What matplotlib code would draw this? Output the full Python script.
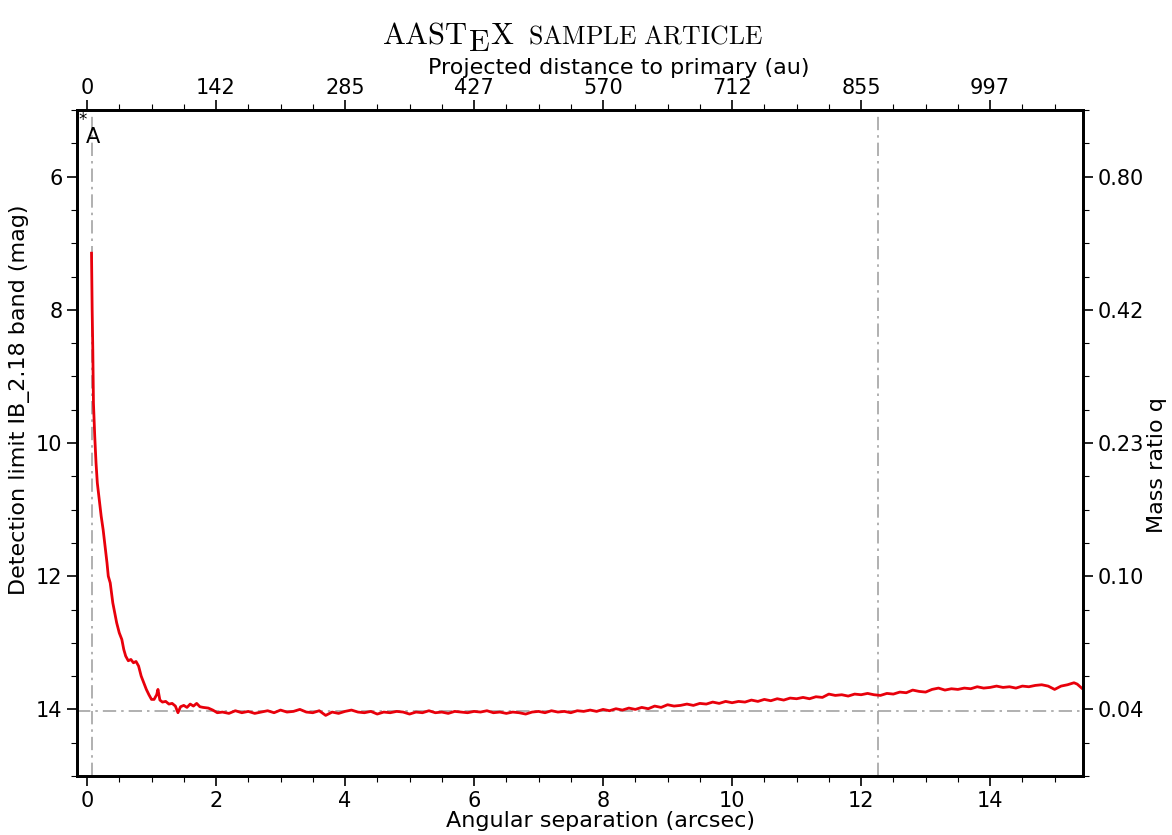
import matplotlib
matplotlib.use("Agg")
import matplotlib.pyplot as plt
from matplotlib.ticker import MultipleLocator
import matplotlib.transforms as mtransforms

# Detection-limit curve (angular separation in arcsec, magnitude limit)
sep = [0.07, 0.08, 0.09, 0.10, 0.12, 0.14, 0.16, 0.19, 0.22, 0.25, 0.28, 0.31, 0.33,
       0.36, 0.40, 0.43, 0.46, 0.50, 0.54, 0.57, 0.60, 0.64, 0.68, 0.72, 0.76, 0.80,
       0.84, 0.88, 0.92, 0.96, 1.00, 1.04, 1.08, 1.10, 1.13, 1.17, 1.22, 1.27, 1.32,
       1.37, 1.41, 1.45, 1.50, 1.55, 1.60, 1.65, 1.70, 1.75, 1.80, 1.88, 1.95, 2.02,
       2.1, 2.2, 2.3, 2.4, 2.5, 2.6, 2.7, 2.8, 2.9, 3.0, 3.1, 3.2, 3.3, 3.4, 3.5, 3.6,
       3.7, 3.8, 3.9, 4.0, 4.1, 4.2, 4.3, 4.4, 4.5, 4.6, 4.7, 4.8, 4.9, 5.0, 5.1, 5.2,
       5.3, 5.4, 5.5, 5.6, 5.7, 5.8, 5.9, 6.0, 6.1, 6.2, 6.3, 6.4, 6.5, 6.6, 6.7, 6.8,
       6.9, 7.0, 7.1, 7.2, 7.3, 7.4, 7.5, 7.6, 7.7, 7.8, 7.9, 8.0, 8.1, 8.2, 8.3, 8.4,
       8.5, 8.6, 8.7, 8.8, 8.9, 9.0, 9.1, 9.2, 9.3, 9.4, 9.5, 9.6, 9.7, 9.8, 9.9, 10.0,
       10.1, 10.2, 10.3, 10.4, 10.5, 10.6, 10.7, 10.8, 10.9, 11.0, 11.1, 11.2, 11.3,
       11.4, 11.5, 11.6, 11.7, 11.8, 11.9, 12.0, 12.1, 12.2, 12.3, 12.4, 12.5, 12.6,
       12.7, 12.8, 12.9, 13.0, 13.1, 13.2, 13.3, 13.4, 13.5, 13.6, 13.7, 13.8, 13.9,
       14.0, 14.1, 14.2, 14.3, 14.4, 14.5, 14.6, 14.7, 14.8, 14.9, 15.0, 15.1, 15.2,
       15.3, 15.35, 15.42]
mag = [7.15, 8.0, 8.6, 9.4, 9.9, 10.3, 10.6, 10.85, 11.1, 11.3, 11.55, 11.8, 12.0,
       12.1, 12.4, 12.55, 12.7, 12.85, 12.95, 13.1, 13.2, 13.27, 13.25, 13.3, 13.28, 13.35,
       13.5, 13.6, 13.7, 13.78, 13.85, 13.85, 13.78, 13.7, 13.86, 13.89, 13.88, 13.92, 13.91,
       13.95, 14.05, 13.96, 13.94, 13.97, 13.92, 13.95, 13.91, 13.96, 13.97, 13.98, 14.01, 14.05,
       14.04, 14.06, 14.02, 14.05, 14.03, 14.06, 14.04, 14.02, 14.05, 14.01, 14.04, 14.03, 14.00,
       14.04, 14.05, 14.02, 14.09, 14.04, 14.06, 14.03, 14.01, 14.04, 14.05, 14.03, 14.07, 14.04,
       14.05, 14.03, 14.04, 14.07, 14.04, 14.05, 14.02, 14.05, 14.04, 14.06, 14.03, 14.04, 14.05,
       14.03, 14.04, 14.02, 14.05, 14.04, 14.06, 14.04, 14.05, 14.07, 14.04, 14.03, 14.05, 14.02,
       14.04, 14.03, 14.05, 14.02, 14.03, 14.01, 14.03, 14.00, 14.02, 13.99, 14.01, 13.98, 14.00,
       13.97, 13.99, 13.95, 13.97, 13.93, 13.95, 13.94, 13.92, 13.94, 13.91, 13.92, 13.89, 13.91,
       13.88, 13.90, 13.88, 13.89, 13.86, 13.88, 13.85, 13.87, 13.84, 13.86, 13.83, 13.84, 13.82,
       13.84, 13.81, 13.82, 13.77, 13.79, 13.78, 13.80, 13.77, 13.78, 13.76, 13.78, 13.79, 13.76,
       13.77, 13.74, 13.75, 13.71, 13.73, 13.74, 13.70, 13.68, 13.71, 13.69, 13.70, 13.68, 13.69,
       13.66, 13.68, 13.67, 13.65, 13.67, 13.66, 13.68, 13.65, 13.66, 13.64, 13.63, 13.65, 13.70,
       13.65, 13.63, 13.60, 13.62, 13.68]

# reference lines
primary_sep = 0.07
outer_sep = 12.26
floor_mag = 14.03

# axis ticks
mag_ticks = [6, 8, 10, 12, 14]
q_labels = ["0.80", "0.42", "0.23", "0.10", "0.04"]
sep_ticks = [0, 2, 4, 6, 8, 10, 12, 14]
au_labels = ["0", "142", "285", "427", "570", "712", "855", "997"]

plt.rcParams['font.family'] = 'DejaVu Sans'
plt.rcParams['mathtext.fontset'] = 'cm'

fig = plt.figure(figsize=(11.72, 8.35), dpi=100)
ax = fig.add_axes([77 / 1172, 1 - 776 / 835, 1006 / 1172, 666 / 835])

gray = '#a3a3a3'
ax.axvline(primary_sep, color=gray, lw=1.2, dashes=(8, 3, 1.5, 3))
ax.axvline(outer_sep, color=gray, lw=1.2, dashes=(8, 3, 1.5, 3))
ax.axhline(floor_mag, color=gray, lw=1.2, dashes=(8, 3, 1.5, 3))
ax.plot(sep, mag, color='#e8000b', lw=2.0)

ax.text(-0.06, 5.15, '*', fontsize=12, ha='center', va='center')
ax.text(0.10, 5.40, 'A', fontsize=15, ha='center', va='center')

ax.set_xlim(-0.155, 15.44)
ax.set_ylim(15, 5)
ax.set_xticks(sep_ticks)
ax.set_yticks(mag_ticks)
ax.xaxis.set_minor_locator(MultipleLocator(0.5))
ax.yaxis.set_minor_locator(MultipleLocator(0.5))

ax2 = ax.twinx()
ax2.set_ylim(15, 5)
ax2.set_yticks(mag_ticks)
ax2.set_yticklabels(q_labels)
ax2.yaxis.set_minor_locator(MultipleLocator(0.5))

ax3 = ax.twiny()
ax3.set_xlim(-0.155, 15.44)
ax3.set_xticks(sep_ticks)
ax3.set_xticklabels(au_labels)
ax3.xaxis.set_minor_locator(MultipleLocator(0.5))

for a in (ax, ax2, ax3):
    a.tick_params(which='major', direction='out', length=7, width=1.2, labelsize=15)
    a.tick_params(which='minor', direction='out', length=4, width=0.8)
    for s in a.spines.values():
        s.set_linewidth(1.8)
ax3.tick_params(which='major', pad=2)

ax.set_xlabel('Angular separation (arcsec)', fontsize=16)
ax.xaxis.set_label_coords(0.52, -0.053)
ax.set_ylabel('Detection limit IB_2.18 band (mag)', fontsize=16)
ax.yaxis.set_label_coords(-0.047, 0.565)
ax3.set_xlabel('Projected distance to primary (au)', fontsize=16)
ax3.xaxis.set_label_coords(0.539, 1.054)
ax2.set_ylabel('Mass ratio q', fontsize=16)
ax2.yaxis.set_label_coords(1.0636, 0.467)

# AASTeX-style title built from pieces
renderer = fig.canvas.get_renderer()
pieces = [(r'$\mathrm{AAST}$', 22, 0, 0), (r'$\mathrm{E}$', 22, -7, 0),
          (r'$\mathrm{X}$', 22, 0, 14), (r'$\mathrm{SAMPLE\ ARTICLE}$', 18.5, 0, 0)]
xpix = 382
for txt, size, dy, kern in pieces:
    t = fig.text(xpix / 1172, 1 - 44 / 835, txt, fontsize=size, ha='left', va='baseline')
    t.set_transform(mtransforms.offset_copy(fig.transFigure, fig=fig, x=0, y=dy, units='dots'))
    w = t.get_window_extent(renderer).width
    xpix += w + kern

fig.savefig('out.png', dpi=100)
